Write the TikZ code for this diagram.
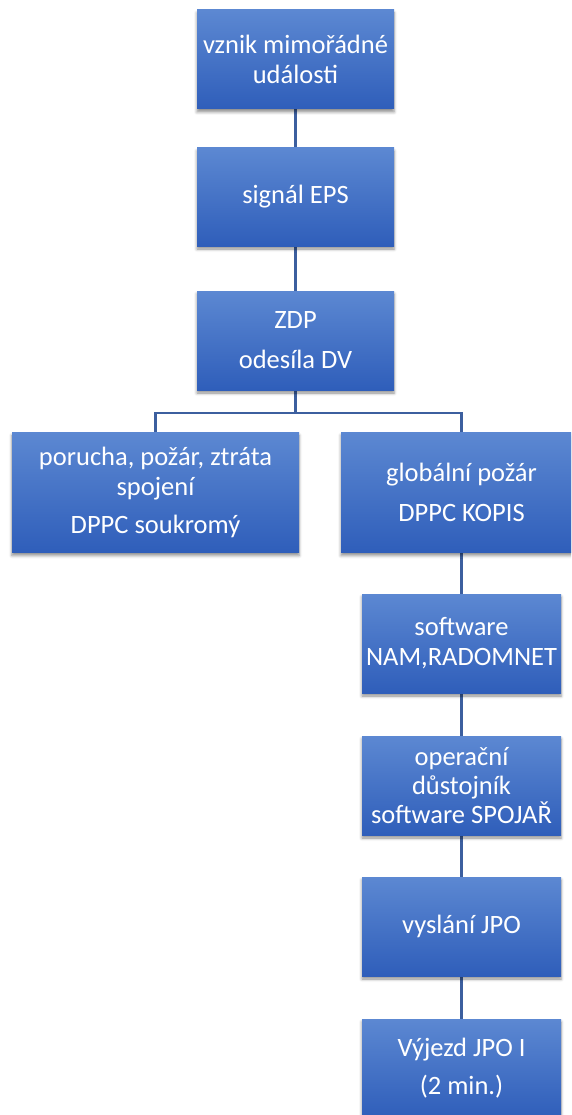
\documentclass[tikz,border=0pt]{standalone}
\usepackage{fontspec}
\setmainfont{Carlito}
\usetikzlibrary{shadows.blur,backgrounds}
\definecolor{boxtop}{HTML}{5C88D2}
\definecolor{boxbot}{HTML}{2F5EBA}
\definecolor{linkc}{HTML}{3C5F9F}
\begin{document}
\begin{tikzpicture}[x=1pt,y=-1pt,
  box/.style={rectangle, inner sep=0pt, top color=boxtop, bottom color=boxbot, draw=none,
    text=white, align=center, font=\fontsize{26.5}{30}\selectfont,
    blur shadow={shadow xshift=0pt, shadow yshift=-3pt, shadow blur radius=3pt, shadow opacity=45}},
  link/.style={draw=linkc, line width=2.2pt}]
\useasboundingbox (0,0) rectangle (571,1115);
\clip (0,0) rectangle (571,1115);
\node[box, minimum width=197, minimum height=99] (b1) at (295.5,59.5) {vznik mimořádné\\události};
\node[box, minimum width=197, minimum height=98] (b2) at (295.5,197) {signál EPS};
\node[box, minimum width=197, minimum height=99] (b3) at (295.5,340.5) {ZDP\\[10pt]odesíla DV};
\node[box, minimum width=287, minimum height=120] (b4) at (155.5,492.5) {porucha, požár, ztráta\\spojení\\[8pt]DPPC soukromý};
\node[box, minimum width=241, minimum height=120] (b5) at (461.5,492.5) {globální požár\\[10pt]DPPC KOPIS};
\node[box, minimum width=199, minimum height=99] (b6) at (461.5,643.5) {software\\NAM,RADOMNET};
\node[box, minimum width=199, minimum height=99, font=\fontsize{26.5}{29}\selectfont] (b7) at (461.5,785.5) {operační\\důstojník\\software SPOJAŘ};
\node[box, minimum width=199, minimum height=99] (b8) at (461.5,926.5) {vyslání JPO};
\node[box, minimum width=199, minimum height=99] (b9) at (461.5,1068.5) {Výjezd JPO I\\[8pt](2 min.)};
\coordinate (bar) at (295.5,413);
\begin{pgfonlayer}{background}
\draw[link] (b1.south) -- (b2.north);
\draw[link] (b2.south) -- (b3.north);
\draw[link] (b3.south) -- (bar) -| (b4.north);
\draw[link] (bar) -| (b5.north);
\draw[link] (b5.south) -- (b6.north);
\draw[link] (b6.south) -- (b7.north);
\draw[link] (b7.south) -- (b8.north);
\draw[link] (b8.south) -- (b9.north);
\end{pgfonlayer}
\end{tikzpicture}
\end{document}
